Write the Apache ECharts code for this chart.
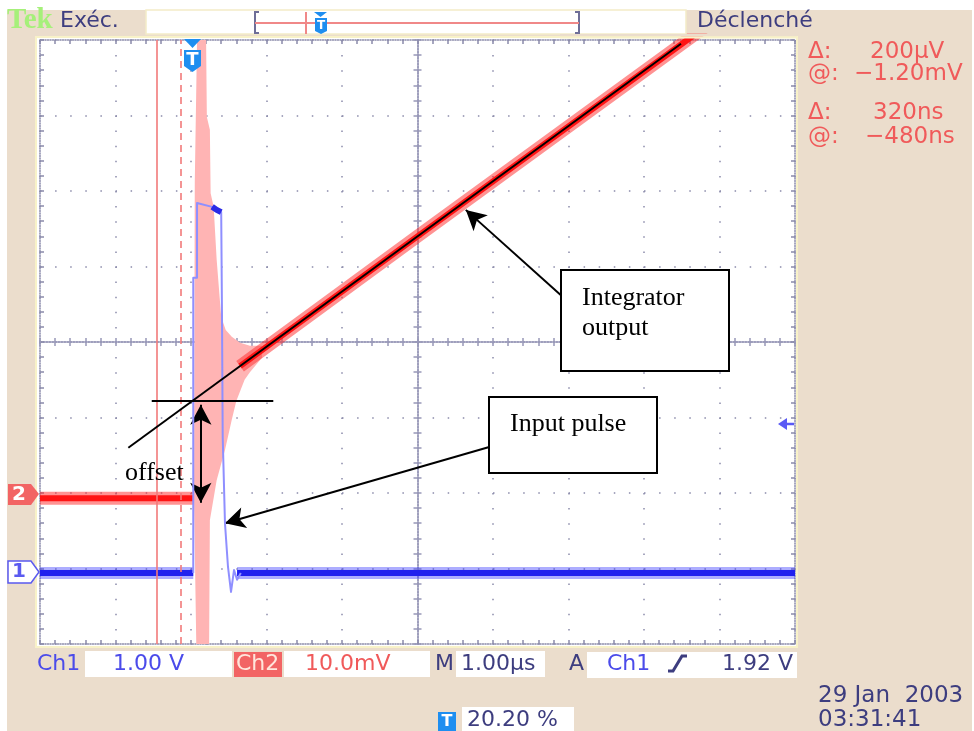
<!DOCTYPE html>
<html><head><meta charset="utf-8">
<script src="https://cdn.jsdelivr.net/npm/echarts@6/dist/echarts.min.js"></script>
<style>html,body{margin:0;padding:0;background:#fff;}#c{width:974px;height:731px;}</style>
</head><body><div id="c"></div>
<script>
// x: time in µs from screen centre (1 µs/div), y: screen divisions
const ch2Baseline = [[-5,-2.07],[-2.97,-2.07]];
const ch2Ramp = [[-2.35,-0.32],[0,1.40],[3.64,4.05],[5,5.05]];
const ch2Envelope = [[-2.96,-2.07],[-2.95,2.12],[-2.92,4.0],[-2.80,4.0],[-2.79,2.98],[-2.75,2.81],[-2.74,1.97],[-2.70,1.79],[-2.66,1.09],[-2.60,0.33],[-2.54,0.16],[-2.46,0.07],[-2.35,-0.01],[-2.22,-0.05],[-2.06,-0.05],
  [-2.06,-0.21],[-2.22,-0.40],[-2.29,-0.50],[-2.40,-0.78],[-2.46,-1.03],[-2.55,-1.43],[-2.66,-1.83],[-2.75,-2.36],[-2.76,-4.0],[-2.93,-4.0],[-2.96,-2.09]];
const ch1BaselinePre = [[-5,-3.06],[-2.97,-3.06]];
const ch1BaselinePost = [[-2.39,-3.06],[5,-3.06]];
const ch1Pulse = [[-2.97,-3.06],[-2.97,0.85],[-2.92,0.85],[-2.92,1.84],[-2.72,1.79],[-2.66,1.75],[-2.60,1.72],[-2.59,0.42],[-2.58,-1.26],[-2.55,-2.40],[-2.51,-2.98],[-2.47,-3.31],[-2.43,-3.02],[-2.39,-3.15],[-2.34,-3.06]];
const ch1Plateau = [[-2.72,1.79],[-2.66,1.75],[-2.60,1.72]];
const cursorTimes = [-3.46, -3.14];
const fitLine = [[-3.83,-1.40],[3.49,3.95]];
const offsetLevel = [[-3.52,-0.78],[-1.91,-0.78]];
const offsetArrow = [[-2.87,-0.83],[-2.87,-2.13]];
const integratorArrow = [[1.90,0.62],[0.64,1.75]];
const inputArrow = [[0.95,-1.39],[-2.55,-2.40]];
const readoutLabels = ['Δ:','@:','Δ:','@:'];
const readoutValues = ['200µV','−1.20mV','320ns','−480ns'];
const xRange = [-5, 5];
const yRange = [-4, 4];

const chart = echarts.init(document.getElementById('c'), null, {renderer:'canvas'});
const dot = '#8a8aaa';
const dotC = '#9898b8';
function axisCommon(extra){
  return Object.assign({type:'value', axisLabel:{show:false}, splitLine:{show:false}, silent:true}, extra);
}
function borderAxis(isX, pos, split){
  return axisCommon({
    min: isX?xRange[0]:yRange[0], max: isX?xRange[1]:yRange[1], interval:1, position:pos,
    axisLine:{show:true,onZero:false,lineStyle:{color:dot,width:1.5,type:[1,1.5]}},
    axisTick:{show:true,inside:true,length:4,lineStyle:{color:dot,width:1.5}},
    minorTick:{show:true,splitNumber:5,length:4,lineStyle:{color:dot,width:1.5}},
    splitLine:{show:!!split,lineStyle:{color:dot,width:1.5,type:[1.5,13.6]}}
  });
}
function centerAxis(isX, pos, inside){
  return axisCommon({
    min: isX?xRange[0]:yRange[0], max: isX?xRange[1]:yRange[1], interval:1, position:pos,
    axisLine:{show:true,onZero:true,onZeroAxisIndex:0,lineStyle:{color:dotC,width:1.5,type:[1.5,1.5]}},
    axisTick:{show:true,inside:inside,length:4,lineStyle:{color:dotC,width:1.5}},
    minorTick:{show:true,splitNumber:5,length:4,lineStyle:{color:dotC,width:1.5}}
  });
}
function ls(name, data, color, width, z){
  return {type:'line', name, data, showSymbol:false, symbol:'none', clip:true, silent:true, animation:false, z,
    lineStyle:{color, width, cap:'butt', join:'round'}};
}
const navy = '#3d3d7f', blueT = '#4b4bea', redT = '#f05a5a';
function T(text, x, y, size, fill, o){
  o = o || {};
  const al = o.align || 'left';
  return {type:'text', z:30, silent:true, style:{text, x, y, fill,
    font:(o.weight||'normal')+' '+size+'px '+(o.family||'"DejaVu Sans"'),
    align:al, verticalAlign:'middle', textAlign:al, textVerticalAlign:'middle'}};
}
function R(x,y,w,h,fill,stroke,lw,z){
  return {type:'rect', z:z==null?5:z, silent:true, shape:{x,y,width:w,height:h}, style:{fill, stroke:stroke||null, lineWidth:lw||0}};
}
function P(points, fill, stroke, lw, z){
  return {type:'polygon', z:z==null?25:z, silent:true, shape:{points}, style:{fill, stroke:stroke||null, lineWidth:lw||0}};
}
function L(points, stroke, lw, z){
  return {type:'polyline', z:z==null?25:z, silent:true, shape:{points}, style:{fill:null, stroke, lineWidth:lw}};
}
const tBlue = '#1e8ef0';
const graphics = [
  R(0,0,974,10,'#fff',null,0,-200), R(0,0,7,731,'#fff',null,0,-200), R(972,0,2,731,'#fff',null,0,-200),
  R(36,37,761,610,'#fff','#f8f2c8',2,-100),
  // strip above graticule (keeps the clipped trace edge tidy)
  R(560,34,237,2.5,'#ebddcc',null,0,20),
  R(560,36.5,237,2,'#f8f2c8',null,0,20),
  // top bar
  T('Tek', 7, 21, 29, '#a6f07a', {weight:'bold', family:'"Liberation Serif"'}),
  T('Exéc.', 60, 21, 22, navy),
  R(146,10,540,24,'#fff','#f3ecc8',1.5,5),
  L([[259,12],[255,12],[255,33],[259,33]], '#6e6e98', 2),
  L([[575,12],[579,12],[579,33],[575,33]], '#6e6e98', 2),
  L([[255,23],[579,23]], '#f08888', 2),
  L([[306,12],[306,34]], '#f08888', 2),
  P([[314,12],[327,12],[320.5,17]], tBlue),
  P([[315,18],[327,18],[327,31],[321,34],[315,31]], tBlue),
  T('T', 321, 26, 12, '#fff', {align:'center', weight:'bold'}),
  T('Déclenché', 697, 21, 22, navy),
  // trigger marker on graticule
  P([[184,39],[201,39],[192.5,48]], tBlue),
  P([[184,50],[201,50],[201,66],[192.5,72],[184,66]], tBlue),
  T('T', 192.5, 60, 18, '#fff', {align:'center', weight:'bold'}),
  // channel ground markers
  P([[8,484],[31,484],[39,494],[31,505],[8,505]], '#f26464'),
  T('2', 19, 495, 20, '#fff', {align:'center', weight:'bold'}),
  P([[8,561],[31,561],[39,572],[31,583],[8,583]], '#fff', '#5a5af0', 1.5),
  T('1', 19, 572, 20, '#5a5af0', {align:'center', weight:'bold'}),
  // trigger level arrow
  P([[778,424],[787,418],[787,430]], '#5a5af5'),
  L([[786,424],[794,424]], '#5a5af5', 2.5),
  // bottom row
  T('Ch1', 37, 664, 22, blueT),
  R(85,651,147,26,'#fff'),
  T('1.00 V', 113, 664, 22, blueT),
  R(234,652,48,25,'#f26464'),
  T('Ch2', 236, 664, 22, '#ffe6dc'),
  R(284,651,146,26,'#fff'),
  T('10.0mV', 305, 664, 22, redT),
  T('M', 435, 664, 22, navy),
  R(456,651,89,26,'#fff'),
  T('1.00µs', 461, 664, 22, navy),
  T('A', 569, 664, 22, navy),
  R(587,652,210,26,'#fff'),
  T('Ch1', 607, 664, 22, blueT),
  L([[668,671],[673,671],[682,656],[687,656]], navy, 3),
  T('1.92 V', 722, 664, 22, navy),
  T('29 Jan  2003', 818, 696, 23, navy),
  T('03:31:41', 818, 720, 23, navy),
  R(438,712,18,19,tBlue),
  T('T', 447, 722, 16, '#fff', {align:'center', weight:'bold'}),
  R(462,707,112,24,'#fff'),
  T('20.20 %', 467, 720, 22, navy),
  // annotation boxes
  R(561,270,168,101,'#fff','#000',2,28),
  T('Integrator', 582, 298, 26, '#000', {family:'"Liberation Serif"'}),
  T('output', 582, 328, 26, '#000', {family:'"Liberation Serif"'}),
  R(489,397,168,76,'#fff','#000',2,28),
  T('Input pulse', 510, 424, 26, '#000', {family:'"Liberation Serif"'}),
  T('offset', 125, 473, 26, '#000', {family:'"Liberation Serif"'})
];
const readX = [870, 854, 873, 865];
const readY = [52, 74, 113, 137];
readoutLabels.forEach((t,i)=>{ graphics.push(T(t, 808, readY[i], 23, redT)); graphics.push(T(readoutValues[i], readX[i], readY[i], 23, redT)); });

const option = {
  backgroundColor:'#ebddcc',
  animation:false,
  grid:{left:40, top:40, width:755, height:604, show:false},
  xAxis:[ borderAxis(true,'bottom',true), borderAxis(true,'top',false), centerAxis(true,'bottom',true), centerAxis(true,'bottom',false) ],
  yAxis:[ borderAxis(false,'left',true), borderAxis(false,'right',false), centerAxis(false,'left',true), centerAxis(false,'left',false) ],
  series:[
    {type:'line', name:'cursors', data:[], z:1, silent:true, animation:false,
      markLine:{silent:true, animation:false, symbol:'none', label:{show:false},
        data: cursorTimes.map((t,i)=>({xAxis:t, lineStyle:{color:'#f27a7a', width:1.6, type: i===0?'solid':[7,5]}}))}},
    {type:'custom', name:'ch2 ringing', data:[ch2Envelope[0]], clip:true, silent:true, animation:false, z:2,
      renderItem:(params, api)=>({type:'polygon', shape:{points: ch2Envelope.map(p=>api.coord(p))}, style:{fill:'#ffb4b4'}})},
    ls('ch2 base halo', ch2Baseline, 'rgba(255,40,40,0.5)', 13, 3),
    ls('ch2 base', ch2Baseline, '#ff1414', 6, 4),
    ls('ch2 ramp halo', ch2Ramp, 'rgba(255,40,40,0.5)', 13, 3),
    ls('ch2 ramp', ch2Ramp, '#ff1414', 6, 4),
    ls('ch1 base halo', ch1BaselinePre, 'rgba(50,50,255,0.4)', 12, 3),
    ls('ch1 base', ch1BaselinePre, '#2020ee', 6, 4),
    ls('ch1 base halo2', ch1BaselinePost, 'rgba(50,50,255,0.4)', 12, 3),
    ls('ch1 base2', ch1BaselinePost, '#2020ee', 6, 4),
    ls('ch1 pulse', ch1Pulse, '#8f8fff', 2, 5),
    ls('ch1 plateau', ch1Plateau, '#2a2ae6', 6, 6),
    ls('fit', fitLine, '#000', 2, 10),
    ls('offset level', offsetLevel, '#000', 2, 10),
    {type:'line', name:'arrows', data:[], z:10, silent:true, animation:false,
      markLine:{silent:true, animation:false, label:{show:false}, symbol:['none','arrow'], symbolSize:[16,20],
        lineStyle:{color:'#000', width:2, type:'solid'},
        data:[
          [{coord:integratorArrow[0]},{coord:integratorArrow[1]}],
          [{coord:inputArrow[0]},{coord:inputArrow[1]}],
          [{coord:offsetArrow[0], symbol:'arrow'},{coord:offsetArrow[1]}]
        ]}}
  ],
  graphic: graphics
};
chart.setOption(option);
</script>
</body></html>
